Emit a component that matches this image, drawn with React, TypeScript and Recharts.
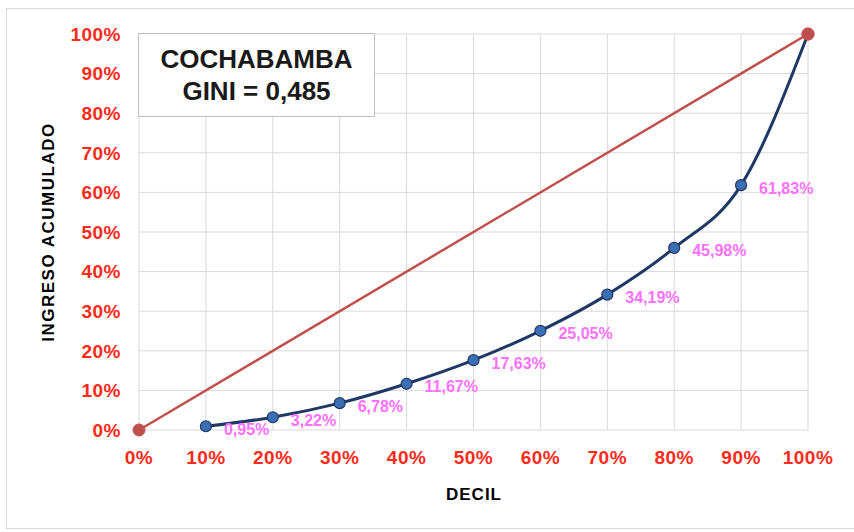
import React from 'react';
import { ComposedChart, Line, XAxis, YAxis, CartesianGrid, LabelList } from 'recharts';

const deciles = [10, 20, 30, 40, 50, 60, 70, 80, 90, 100];
const ingresoAcumulado = [0.95, 3.22, 6.78, 11.67, 17.63, 25.05, 34.19, 45.98, 61.83, 100];
const equidadX = [0, 100];
const equidadY = [0, 100];
const ticks = [0, 10, 20, 30, 40, 50, 60, 70, 80, 90, 100];
const title = 'COCHABAMBA';
const subtitle = 'GINI = 0,485';

const lorenzData = deciles.map((x, i) => ({ x, lorenz: ingresoAcumulado[i] }));
const equidadData = equidadX.map((x, i) => ({ x, eq: equidadY[i] }));

const FONT = '"Liberation Sans", Arial, sans-serif';

const fmtPct = (v: number) => `${v}%`;
const fmtLabel = (v: number) => `${v.toFixed(2).replace('.', ',')}%`;

const LorenzDot = (props: any) => {
  const { cx, cy, index } = props;
  if (index === deciles.length - 1) return null;
  return <circle key={`d${index}`} cx={cx} cy={cy} r={5.5} fill="#3C6EB4" stroke="#1F3864" strokeWidth={1.2} />;
};

const PctLabel = (props: any) => {
  const { x, y, value, index } = props;
  if (index === deciles.length - 1) return null;
  return (
    <text x={x + 18} y={y + 3} fill="#FF70FF" fontSize={16} fontWeight="bold" fontFamily={FONT} dominantBaseline="central">
      {fmtLabel(value)}
    </text>
  );
};

const tickStyle = { fill: '#FF2A1A', fontSize: 19, fontWeight: 'bold', fontFamily: FONT, letterSpacing: 0.5 };

export default function App() {
  return (
    <div style={{ position: 'absolute', left: 0, top: 0, width: 854, height: 532, background: '#fff' }}>
      <div style={{ position: 'absolute', left: 6, top: 8, width: 860, height: 521, border: '1px solid #d9d9d9', boxSizing: 'border-box' }} />
      <ComposedChart width={854} height={532} margin={{ top: 34, right: 46, bottom: 0, left: 0 }} style={{ position: 'absolute', left: 0, top: 0 }}>
        <CartesianGrid stroke="#d9d9d9" strokeWidth={1} />
        <XAxis
          type="number"
          dataKey="x"
          domain={[0, 100]}
          ticks={ticks}
          tickFormatter={fmtPct}
          axisLine={false}
          tickLine={false}
          tickSize={0}
          tickMargin={21}
          height={102}
          tick={tickStyle}
          label={{
            content: (p: any) => (
              <text x={474} y={p.viewBox.y + 64} textAnchor="middle" dominantBaseline="central" fontSize={17} letterSpacing={1} fontWeight="bold" fontFamily={FONT} fill="#000">
                DECIL
              </text>
            ),
          }}
          allowDuplicatedCategory={false}
        />
        <YAxis
          type="number"
          domain={[0, 100]}
          ticks={ticks}
          tickFormatter={fmtPct}
          axisLine={false}
          tickLine={false}
          tickSize={0}
          tickMargin={18}
          width={139}
          tick={tickStyle}
          label={{
            content: (p: any) => (
              <text
                x={48}
                y={p.viewBox.y + p.viewBox.height / 2}
                textAnchor="middle"
                dominantBaseline="central"
                fontSize={17}
                letterSpacing={1.5}
                fontWeight="bold"
                fontFamily={FONT}
                fill="#000"
                transform={`rotate(-90 48 ${p.viewBox.y + p.viewBox.height / 2})`}
              >
                INGRESO ACUMULADO
              </text>
            ),
          }}
        />
        <Line
          data={equidadData}
          dataKey="eq"
          type="linear"
          stroke="#C0504D"
          strokeWidth={2.5}
          dot={{ r: 6, fill: '#C0504D', stroke: '#C0504D', strokeWidth: 1 }}
          isAnimationActive={false}
        />
        <Line
          data={lorenzData}
          dataKey="lorenz"
          type="monotone"
          stroke="#1F3864"
          strokeWidth={3}
          dot={<LorenzDot />}
          isAnimationActive={false}
        >
          <LabelList dataKey="lorenz" content={<PctLabel />} />
        </Line>
        <Line
          data={[equidadData[1]]}
          dataKey="eq"
          stroke="none"
          dot={{ r: 6, fill: '#C0504D', stroke: '#C0504D', strokeWidth: 1 }}
          isAnimationActive={false}
        />
      </ComposedChart>
      <div
        style={{
          position: 'absolute',
          left: 138,
          top: 33,
          width: 237,
          height: 84,
          background: '#fff',
          border: '1.5px solid #bfbfbf',
          boxSizing: 'border-box',
          display: 'flex',
          flexDirection: 'column',
          alignItems: 'center',
          justifyContent: 'center',
          fontFamily: FONT,
          fontWeight: 'bold',
          fontSize: 26,
          lineHeight: '32px',
          color: '#1a1a1a',
        }}
      >
        <div>{title}</div>
        <div>{subtitle}</div>
      </div>
    </div>
  );
}
